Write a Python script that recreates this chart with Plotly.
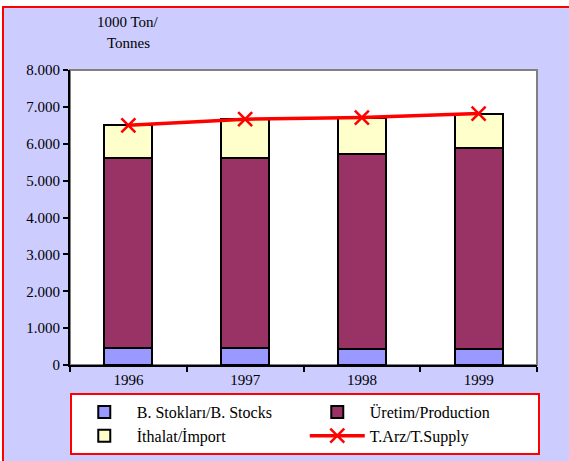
import plotly.graph_objects as go

years = ["1996", "1997", "1998", "1999"]
stocks = [470, 470, 425, 425]
production = [5150, 5150, 5310, 5465]
imports = [880, 1050, 965, 920]
supply = [6500, 6665, 6710, 6820]

names = ["B. Stokları/B. Stocks", "Üretim/Production", "İthalat/İmport", "T.Arz/T.Supply"]
ytitle_lines = ["1000 Ton/", "Tonnes"]
yticks = [0, 1000, 2000, 3000, 4000, 5000, 6000, 7000, 8000]

FONT = "Liberation Serif, Times New Roman, serif"
W, H = 569, 461
ML, MR, MT, MB = 70, 32, 70, 96
pw, ph = W - ML - MR, H - MT - MB

def px(x):
    return (x - ML) / pw

def py(y):
    return (H - MB - y) / ph

fig = go.Figure()
bar_line = dict(color="black", width=2)
fig.add_trace(go.Bar(x=years, y=stocks, name=names[0], marker=dict(color="#9999FF", line=bar_line)))
fig.add_trace(go.Bar(x=years, y=production, name=names[1], marker=dict(color="#993366", line=bar_line)))
fig.add_trace(go.Bar(x=years, y=imports, name=names[2], marker=dict(color="#FFFFCC", line=bar_line)))
fig.add_trace(go.Scatter(x=years, y=supply, name=names[3], mode="lines+markers",
                         line=dict(color="#FF0000", width=3.5),
                         marker=dict(symbol="x-thin", size=14, line=dict(color="#FF0000", width=2.5))))

shapes = [
    dict(type="rect", xref="paper", yref="paper", x0=px(3), x1=px(580), y0=py(480), y1=py(7),
         fillcolor="#CCCCFF", line=dict(color="#FF0000", width=2), layer="below"),
    dict(type="rect", xref="paper", yref="paper", x0=0, x1=1, y0=0, y1=1,
         fillcolor="white", line=dict(color="#808080", width=2), layer="below"),
]

annotations = [
    dict(text=ytitle_lines[0], xref="paper", yref="paper", x=px(128), y=py(22), showarrow=False,
         font=dict(family=FONT, size=15, color="black"), xanchor="center", yanchor="middle"),
    dict(text=ytitle_lines[1], xref="paper", yref="paper", x=px(128), y=py(43), showarrow=False,
         font=dict(family=FONT, size=15, color="black"), xanchor="center", yanchor="middle"),
]

fig.update_layout(
    width=W, height=H,
    margin=dict(l=ML, r=MR, t=MT, b=MB, pad=0, autoexpand=False),
    barmode="stack", bargap=0.59,
    paper_bgcolor="white", plot_bgcolor="white",
    separators=",.",
    font=dict(family=FONT, size=15, color="black"),
    shapes=shapes, annotations=annotations,
    showlegend=True,
    legend=dict(orientation="h", x=-0.0005, y=py(393), xanchor="left", yanchor="top",
                bgcolor="white", bordercolor="#FF0000", borderwidth=2,
                font=dict(family=FONT, size=16, color="black"),
                entrywidth=163, entrywidthmode="pixels", itemwidth=55,
                traceorder="normal", tracegroupgap=0),
    xaxis=dict(type="category", showline=True, linecolor="black", linewidth=2,
               ticks="outside", tickson="boundaries", ticklen=5, tickcolor="black", tickwidth=2,
               tickfont=dict(family=FONT, size=15), mirror=False, showgrid=False),
    yaxis=dict(range=[0, 8000], tickvals=yticks, tickformat=",d", showline=True, linecolor="black",
               linewidth=2, ticks="outside", ticklen=5, tickcolor="black", tickwidth=2,
               tickfont=dict(family=FONT, size=15), showgrid=False, zeroline=False),
)

fig.write_html("out.html", config={"displayModeBar": False},
               post_script="document.body.style.margin='0';document.body.style.overflow='hidden';")
